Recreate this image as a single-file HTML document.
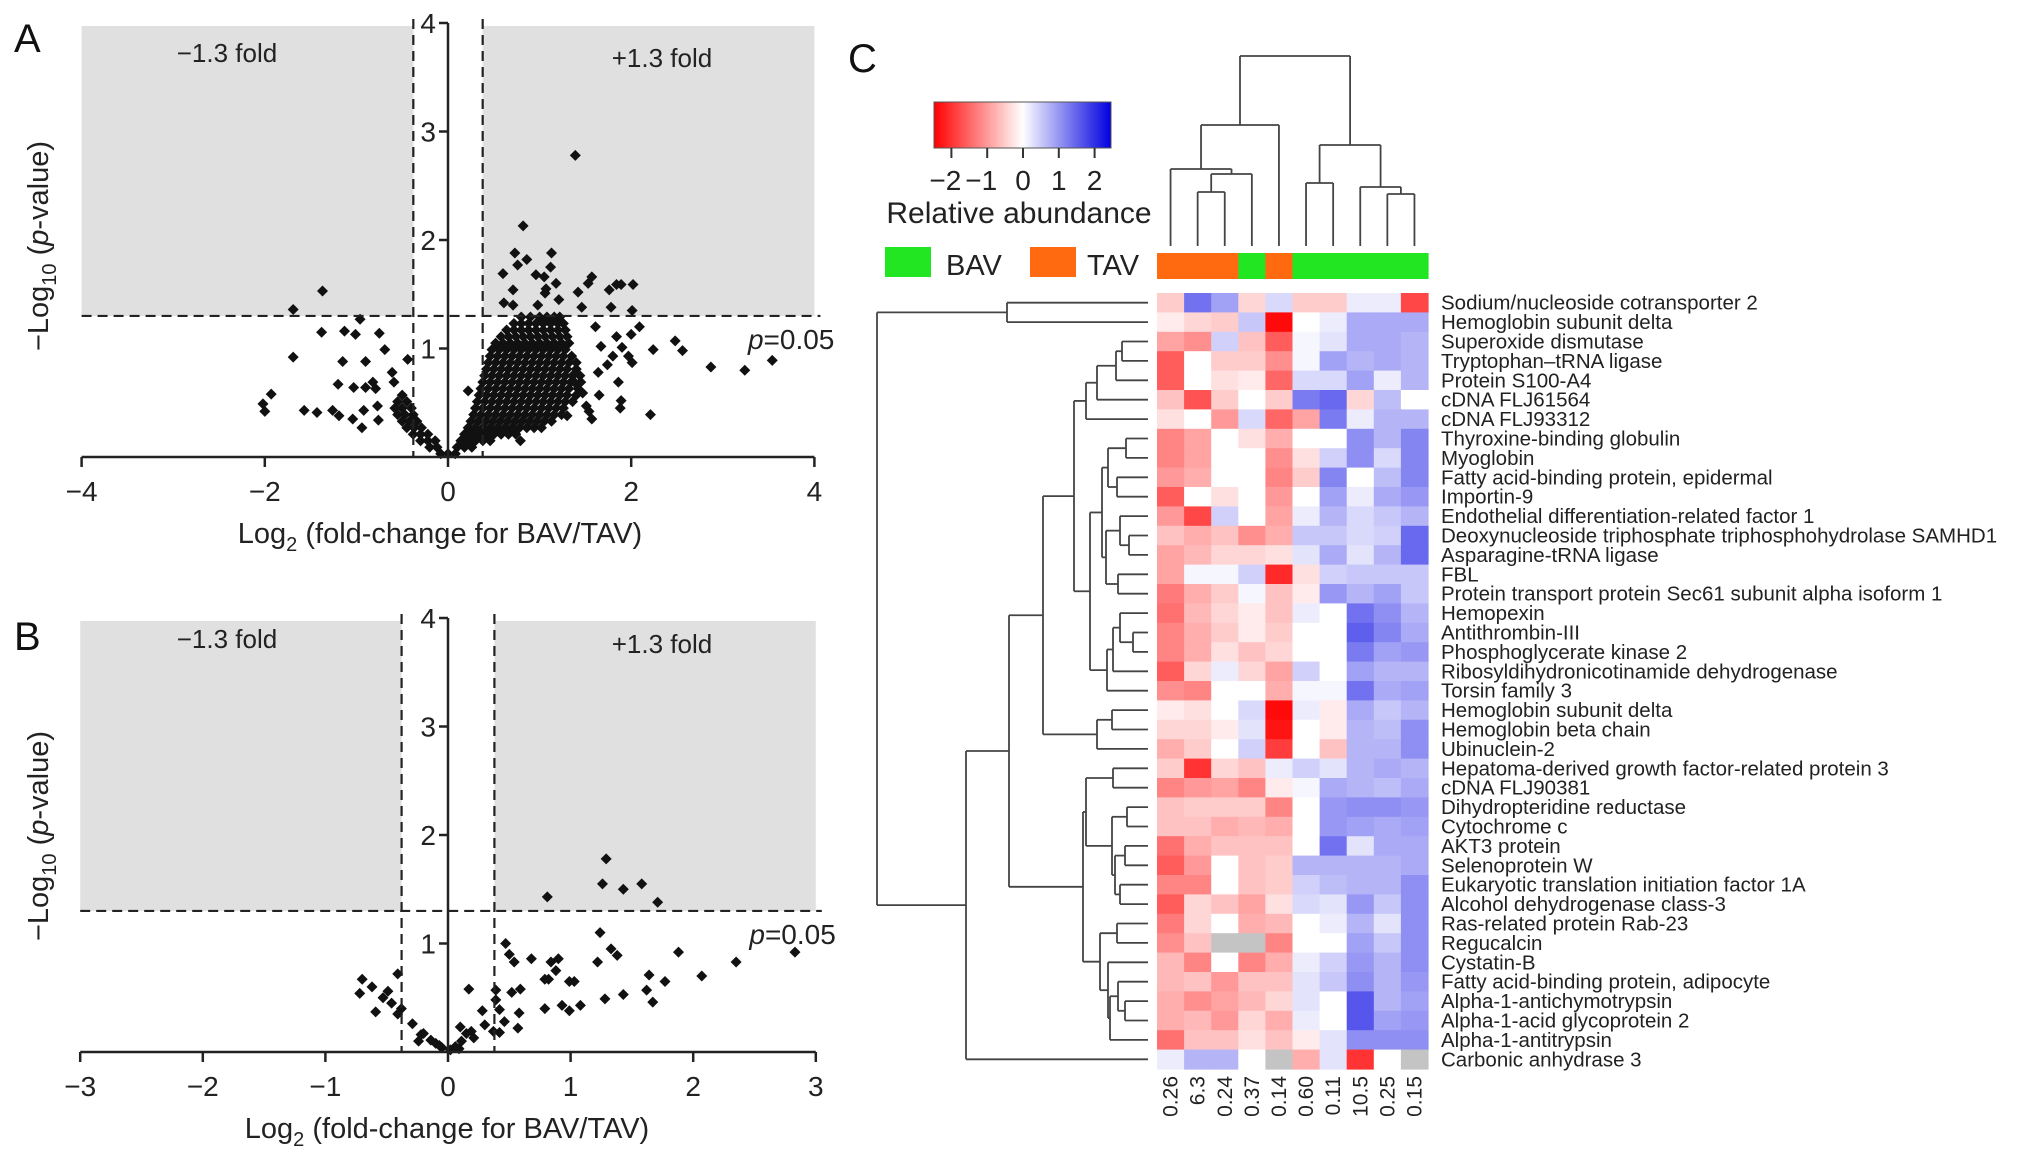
<!DOCTYPE html>
<html><head><meta charset="utf-8"><style>
html,body{margin:0;padding:0;background:#fff;}
svg{display:block;font-family:"Liberation Sans",Arial,sans-serif;}
</style></head><body>
<svg id="fig" width="2032" height="1168" viewBox="0 0 2032 1168" xmlns="http://www.w3.org/2000/svg">
<g id="panelA"></g>
<g id="panelB"></g>
<g id="panelC"></g>
</svg>
<script>
// ---------- Panel A data ----------
const aOutX = [0.82,0.73,0.86,1.13,0.76,1.12,0.60,0.96,1.05,1.57,1.53,1.18,0.71,1.07,1.06,1.42,1.76,1.84,1.89,2.02,0.61,0.71,0.98,1.21,1.46,1.78,2.01,
 -1.37,-1.69,-0.96,-1.38,-1.13,-1.01,-0.75,-1.69,-1.15,-0.90,-0.69,-0.44,-0.61,-0.59,-1.20,-1.03,-0.90,-0.82,-0.79,-1.93,-2.02,-2.00,-1.57,-1.43,-1.26,-1.19,-1.04,-0.94,-0.92,-0.77,-0.76,
 2.24,2.48,2.56,2.87,3.24,3.54,2.21,2.09,2.00,1.97,2.01,1.90,1.84,1.80,1.74,1.67,1.61,1.86,1.89,1.88,1.65,1.57,1.54,1.47,1.38,1.64,1.51,1.30,0.79,0.22,1.39];
const aOutY = [2.13,1.88,1.82,1.88,1.77,1.75,1.69,1.68,1.66,1.66,1.60,1.60,1.54,1.55,1.51,1.52,1.54,1.59,1.59,1.59,1.42,1.40,1.40,1.45,1.38,1.38,1.35,
 1.53,1.36,1.27,1.15,1.16,1.13,1.14,0.92,0.88,0.88,0.99,0.90,0.78,0.69,0.67,0.64,0.64,0.69,0.63,0.58,0.49,0.42,0.43,0.41,0.43,0.38,0.35,0.27,0.43,0.47,0.34,
 0.99,1.07,0.98,0.83,0.80,0.89,0.39,1.20,1.13,0.93,0.87,1.01,1.11,0.93,0.85,1.02,1.20,0.69,0.52,0.45,0.57,0.35,0.42,0.59,0.69,0.78,0.47,0.38,0.15,0.61,2.78];
const aBlobY = [0.03,0.09,0.15,0.21,0.27,0.33,0.39,0.45,0.51,0.57,0.63,0.69,0.75,0.81,0.87,0.93,0.99,1.05,1.11,1.17,1.23,1.29];
const aBlobX = [
[-0.08,0,0.08],
[-0.2,-0.12,0.1,0.18,0.26],
[-0.3,-0.22,-0.14,0.14,0.22,0.3,0.38,0.46],
[-0.38,-0.3,-0.22,0.18,0.26,0.34,0.42,0.5,0.58,0.66,0.74],
[-0.45,-0.37,-0.29,0.22,0.3,0.38,0.46,0.54,0.62,0.7,0.78,0.86,0.94,1.02],
[-0.5,-0.42,-0.34,0.25,0.33,0.41,0.49,0.57,0.65,0.73,0.81,0.89,0.97,1.05,1.13],
[-0.55,-0.47,-0.38,0.28,0.36,0.44,0.52,0.6,0.68,0.76,0.84,0.92,1.0,1.08,1.16,1.24],
[-0.58,-0.5,-0.4,0.3,0.38,0.46,0.54,0.62,0.7,0.78,0.86,0.94,1.02,1.1,1.18,1.26],
[-0.55,-0.45,0.32,0.4,0.48,0.56,0.64,0.72,0.8,0.88,0.96,1.04,1.12,1.2,1.28,1.36],
[-0.5,0.34,0.42,0.5,0.58,0.66,0.74,0.82,0.9,0.98,1.06,1.14,1.22,1.3,1.4],
[0.36,0.44,0.52,0.6,0.68,0.76,0.84,0.92,1.0,1.08,1.16,1.24,1.32,1.42],
[0.38,0.46,0.54,0.62,0.7,0.78,0.86,0.94,1.02,1.1,1.18,1.26,1.34,1.45],
[0.4,0.48,0.56,0.64,0.72,0.8,0.88,0.96,1.04,1.12,1.2,1.28,1.36,1.44],
[0.42,0.5,0.58,0.66,0.74,0.82,0.9,0.98,1.06,1.14,1.22,1.3,1.4],
[0.44,0.52,0.6,0.68,0.76,0.84,0.92,1.0,1.08,1.16,1.24,1.32,1.4],
[0.46,0.54,0.62,0.7,0.78,0.86,0.94,1.02,1.1,1.18,1.26,1.35],
[0.48,0.56,0.64,0.72,0.8,0.88,0.96,1.04,1.12,1.2,1.28],
[0.52,0.6,0.68,0.76,0.84,0.92,1.0,1.08,1.16,1.24,1.32],
[0.58,0.66,0.74,0.82,0.9,0.98,1.06,1.14,1.22,1.3],
[0.64,0.72,0.8,0.88,0.96,1.04,1.12,1.2,1.28],
[0.72,0.8,0.88,0.96,1.04,1.12,1.2,1.26],
[0.8,0.9,1.0,1.08,1.16,1.22]];
const aXTicks = [-4,-2,0,2,4];
const aXTickLabels = ["\u22124","\u22122","0","2","4"];
const aYTicks = [1,2,3,4];

// ---------- Panel B data ----------
const bX = [1.29,1.26,1.43,1.58,1.71,0.81,1.24,1.33,1.38,1.22,1.88,2.83,2.35,2.07,1.64,1.77,1.62,1.67,1.43,1.28,1.08,0.99,0.93,0.79,0.79,0.82,0.99,1.03,0.88,0.84,0.90,0.68,0.47,0.50,0.54,0.59,0.52,0.58,0.57,0.46,0.42,0.39,0.39,0.37,0.42,0.30,0.28,0.17,0.10,0.15,0.19,0.21,0.11,0.06,0.02,-0.05,-0.10,-0.14,-0.20,-0.24,-0.22,-0.29,-0.38,-0.41,-0.41,-0.46,-0.49,-0.53,-0.62,-0.70,-0.72,-0.59,-0.07,0.09];
const bY = [1.78,1.55,1.50,1.55,1.38,1.43,1.10,0.95,0.89,0.83,0.92,0.92,0.83,0.70,0.71,0.65,0.57,0.46,0.53,0.49,0.43,0.38,0.43,0.40,0.67,0.67,0.65,0.65,0.75,0.83,0.86,0.86,1.00,0.90,0.83,0.58,0.55,0.36,0.22,0.28,0.39,0.57,0.48,0.19,0.18,0.25,0.38,0.58,0.23,0.17,0.19,0.13,0.10,0.05,0.02,0.04,0.08,0.11,0.17,0.10,0.16,0.26,0.40,0.35,0.72,0.45,0.56,0.50,0.60,0.67,0.54,0.37,0.06,0.03];
const bXTicks = [-3,-2,-1,0,1,2,3];
const bXTickLabels = ["\u22123","\u22122","\u22121","0","1","2","3"];
const bYTicks = [1,2,3,4];

// ---------- Panel C data ----------
const proteins = ["Sodium/nucleoside cotransporter 2","Hemoglobin subunit delta","Superoxide dismutase","Tryptophan\u2013tRNA ligase","Protein S100-A4","cDNA FLJ61564","cDNA FLJ93312","Thyroxine-binding globulin","Myoglobin","Fatty acid-binding protein, epidermal","Importin-9","Endothelial differentiation-related factor 1","Deoxynucleoside triphosphate triphosphohydrolase SAMHD1","Asparagine-tRNA ligase","FBL","Protein transport protein Sec61 subunit alpha isoform 1","Hemopexin","Antithrombin-III","Phosphoglycerate kinase 2","Ribosyldihydronicotinamide dehydrogenase","Torsin family 3","Hemoglobin subunit delta","Hemoglobin beta chain","Ubinuclein-2","Hepatoma-derived growth factor-related protein 3","cDNA FLJ90381","Dihydropteridine reductase","Cytochrome c","AKT3 protein","Selenoprotein W","Eukaryotic translation initiation factor 1A","Alcohol dehydrogenase class-3","Ras-related protein Rab-23","Regucalcin","Cystatin-B","Fatty acid-binding protein, adipocyte","Alpha-1-antichymotrypsin","Alpha-1-acid glycoprotein 2","Alpha-1-antitrypsin","Carbonic anhydrase 3"];
const sampleLabels = ["0.26","6.3","0.24","0.37","0.14","0.60","0.11","10.5","0.25","0.15"];
const sampleGroups = ["TAV","TAV","TAV","BAV","TAV","BAV","BAV","BAV","BAV","BAV"];
const N = null;
const abundance = [
[-0.5,1.5,1.0,-0.4,0.4,-0.5,-0.5,0.2,0.2,-1.8],
[-0.2,-0.4,-0.5,0.6,-2.4,0,0.2,0.9,0.9,0.9],
[-0.9,-1.1,0.5,-0.6,-1.6,0.1,0.3,0.9,0.9,0.8],
[-1.6,0,-0.5,-0.5,-1.1,0.1,1.0,0.8,0.9,0.8],
[-1.6,0,-0.3,-0.2,-1.5,0.4,0.4,1.0,0.2,0.8],
[-0.6,-1.7,-0.5,0,-0.5,1.4,1.6,-0.4,0.7,0],
[-0.3,0,-1.0,0.4,-1.5,-0.9,1.4,0.2,0.8,0.8],
[-1.2,-0.9,0,-0.3,-0.8,0,0,1.2,0.8,1.3],
[-1.2,-0.9,0,0,-1.1,-0.3,0.5,1.2,0.4,1.3],
[-1.0,-0.8,0,0,-1.2,-0.5,1.3,0,0.7,1.3],
[-1.6,0,-0.3,0,-1.0,0,1.0,0.2,0.9,1.1],
[-1.0,-1.8,0.5,0,-0.9,0.2,0.8,0.4,0.6,0.8],
[-0.6,-0.8,-0.6,-1.1,-0.8,0.6,0.6,0.4,0.5,1.6],
[-0.9,-0.7,-0.4,-0.4,-0.3,0.3,0.9,0.3,0.8,1.6],
[-0.9,0.1,0.1,0.5,-2.1,-0.3,0.5,0.6,0.6,0.6],
[-1.3,-0.8,-0.5,0.1,-0.6,-0.2,1.1,0.8,1.0,0.6],
[-1.4,-0.7,-0.4,-0.2,-0.6,0.2,0,1.5,1.2,0.8],
[-1.2,-0.8,-0.5,-0.2,-0.5,0,0,1.7,1.3,0.9],
[-1.2,-0.8,-0.3,-0.6,-0.4,0,0,1.4,1.0,1.1],
[-1.6,-0.4,0.2,-0.4,-0.9,0.5,0,1.0,0.8,0.8],
[-1.1,-1.2,0,0,-0.8,0.1,0.1,1.5,0.9,1.0],
[-0.2,-0.3,0,0.4,-2.4,0.2,-0.2,0.9,0.6,0.8],
[-0.4,-0.4,-0.2,0.3,-2.3,0,-0.2,0.8,0.7,1.2],
[-0.8,-0.5,0,0.5,-1.9,0,-0.6,0.8,0.8,1.2],
[-0.5,-2.0,-0.4,-0.6,0.2,0.5,0.3,0.8,0.9,0.8],
[-1.2,-1.0,-0.9,-1.2,-0.2,0.1,0.9,0.8,0.7,0.9],
[-0.6,-0.5,-0.5,-0.5,-1.2,0,1.1,1.2,1.2,1.1],
[-0.6,-0.6,-0.8,-0.7,-0.8,0,1.1,1.0,0.9,1.0],
[-1.4,-0.8,-0.6,-0.6,-0.6,0,1.5,0.3,0.9,0.9],
[-1.6,-1.0,0,-0.6,-0.5,0.8,0.8,0.8,0.8,0.9],
[-1.2,-1.2,0,-0.6,-0.5,0.5,0.7,0.8,0.8,1.2],
[-1.6,-0.4,-0.6,-0.9,-0.3,0.4,0.3,1.1,0.6,1.2],
[-1.3,-0.4,0,-0.8,-0.7,0,0.2,0.8,0.3,1.2],
[-1.1,-0.6,N,N,-1.2,0,0,1.0,0.6,1.2],
[-0.7,-1.2,0,-1.2,-0.8,0.2,0.5,1.1,0.8,1.2],
[-0.7,-0.6,-1.0,-0.6,-0.6,0.3,0.6,1.2,0.8,1.1],
[-0.8,-1.1,-0.9,-0.7,-0.4,0.3,0,1.8,0.8,1.0],
[-0.8,-0.7,-1.0,-0.4,-0.8,0.2,0,1.8,1.0,1.1],
[-1.4,-0.6,-0.6,-0.3,-0.6,-0.2,0.3,1.2,1.2,1.2],
[0.2,0.8,0.8,0,N,-0.8,0.3,-2.0,0,N]];
const legendTicks = [-2,-1,0,1,2];
const legendTickLabels = ["\u22122","\u22121","0","1","2"];

// ---------- helpers ----------
const NS = "http://www.w3.org/2000/svg";
function mk(parent, tag, attrs, text) {
  const e = document.createElementNS(NS, tag);
  for (const k in attrs) e.setAttribute(k, attrs[k]);
  if (text !== undefined) e.textContent = text;
  parent.appendChild(e);
  return e;
}
function diamond(g, cx, cy, r) {
  const p = mk(g, "polygon", {points: `${cx},${cy-r} ${cx+r},${cy} ${cx},${cy+r} ${cx-r},${cy}`, fill: "#111"});
  
  
}

function volcano(g, o) {
  const sx = v => o.x0 + v * o.kx;
  const sy = v => o.y0 - v * o.ky;
  const lf = Math.log2(1.3);
  const gl = mk(g, "rect", {x: sx(o.xmin), y: sy(4) + 3, width: sx(-lf) - sx(o.xmin), height: sy(1.3) - sy(4) - 3, fill: "#e0e0e0"});
  
  
  const gr = mk(g, "rect", {x: sx(lf), y: sy(4) + 3, width: sx(o.xmax) - sx(lf), height: sy(1.3) - sy(4) - 3, fill: "#e0e0e0"});
  
  
  const pts = mk(g, "g", {});
  
  
  o.points(pts, sx, sy);
  const dash = {stroke: "#222", "stroke-width": 2.2, "stroke-dasharray": "10,6", fill: "none"};
  const h = mk(g, "line", Object.assign({x1: sx(o.xmin), x2: sx(o.xmax) + 6, y1: sy(1.3), y2: sy(1.3)}, dash));
  
  
  for (const s of [-1, 1]) {
    const v = mk(g, "line", Object.assign({x1: sx(s * lf), x2: sx(s * lf), y1: sy(4) - 4, y2: sy(0)}, dash));
    
    
  }
  const ax = mk(g, "line", {x1: sx(o.xmin), x2: sx(o.xmax), y1: sy(0), y2: sy(0), stroke: "#222", "stroke-width": 2.5});
  
  
  o.xTicks.forEach((t, i) => {
    mk(g, "line", {x1: sx(t), x2: sx(t), y1: sy(0), y2: sy(0) + 10, stroke: "#222", "stroke-width": 2.5});
    const tl = mk(g, "text", {x: sx(t), y: sy(0) + 44, "text-anchor": "middle", "font-size": 28, fill: "#222"}, o.xTickLabels[i]);
    
    
  });
  const ay = mk(g, "line", {x1: sx(0), x2: sx(0), y1: sy(4), y2: sy(0), stroke: "#222", "stroke-width": 2.5});
  
  
  o.yTicks.forEach(t => {
    mk(g, "line", {x1: sx(0) - 9, x2: sx(0), y1: sy(t), y2: sy(t), stroke: "#222", "stroke-width": 2.5});
    const tl = mk(g, "text", {x: sx(0) - 12, y: sy(t) + 10, "text-anchor": "end", "font-size": 28, fill: "#222"}, String(t));
    
    
  });
  const xt = mk(g, "text", {x: o.titleX, y: sy(0) + 86, "text-anchor": "middle", "font-size": 29, fill: "#222"});
  xt.innerHTML = 'Log<tspan font-size="20" dy="8">2</tspan><tspan dy="-8"> (fold-change for BAV/TAV)</tspan>';
  
  
  const yt = mk(g, "text", {transform: `translate(48,${o.yTitleY}) rotate(-90)`, "text-anchor": "middle", "font-size": 29, fill: "#222"});
  yt.innerHTML = '\u2212Log<tspan font-size="20" dy="8">10</tspan><tspan dy="-8"> (</tspan><tspan font-style="italic">p</tspan>-value)';
  
  
  const pl = mk(g, "text", {x: sx(o.xmax) + 20, y: sy(1.3) + 33, "text-anchor": "end", "font-size": 28, fill: "#222"});
  pl.innerHTML = '<tspan font-style="italic">p</tspan>=0.05';
  
  
  const f1 = mk(g, "text", {x: o.foldLX, y: o.foldY, "text-anchor": "middle", "font-size": 26, fill: "#222"}, "\u22121.3 fold");
  
  
  const f2 = mk(g, "text", {x: o.foldRX, y: o.foldY + 5, "text-anchor": "middle", "font-size": 26, fill: "#222"}, "+1.3 fold");
  
  
  const pn = mk(g, "text", {x: 14, y: o.letterY, "font-size": 40, fill: "#111"}, o.letter);
  
  
}

volcano(document.getElementById("panelA"), {
  x0: 448, kx: 91.6, y0: 457, ky: 108.5, xmin: -4, xmax: 4,
  xTicks: aXTicks, xTickLabels: aXTickLabels, yTicks: aYTicks,
  titleX: 440, yTitleY: 246, foldLX: 227, foldRX: 662, foldY: 62, letter: "A", letterY: 52,
  points: (g, sx, sy) => {
    aBlobY.forEach((y, i) => aBlobX[i].forEach(x => diamond(g, sx(x), sy(y), 5.5)));
    aOutX.forEach((x, i) => diamond(g, sx(x), sy(aOutY[i]), 5.5));
  }
});
volcano(document.getElementById("panelB"), {
  x0: 448, kx: 122.6, y0: 1052, ky: 108.5, xmin: -3, xmax: 3,
  xTicks: bXTicks, xTickLabels: bXTickLabels, yTicks: bYTicks,
  titleX: 447, yTitleY: 836, foldLX: 227, foldRX: 662, foldY: 648, letter: "B", letterY: 650,
  points: (g, sx, sy) => { bX.forEach((x, i) => diamond(g, sx(x), sy(bY[i]), 5.5)); }
});

// ---------- Panel C ----------
(function () {
  const g = document.getElementById("panelC");
  const X0 = 1157, CW = 27.1, Y0 = 293, RH = 19.4;
  function color(v) {
    if (v === null) return "#c4c4c4";
    const t = Math.min(Math.abs(v) / 2.5, 1);
    if (v < 0) return `rgb(255,${Math.round(255 * (1 - t))},${Math.round(255 * (1 - t))})`;
    return `rgb(${Math.round(255 - 235 * t)},${Math.round(255 - 235 * t)},${Math.round(255 - 25 * t)})`;
  }
  const cells = mk(g, "g", {});
  
  
  abundance.forEach((row, r) => row.forEach((v, c) => {
    const e = mk(cells, "rect", {x: X0 + c * CW, y: Y0 + r * RH, width: CW + 0.6, height: RH + 0.6, fill: color(v)});
    
    
  }));
  proteins.forEach((p, r) => {
    const t = mk(g, "text", {x: 1441, y: Y0 + r * RH + RH / 2 + 7, "font-size": 20.5, fill: "#222"}, p);
    
    
  });
  sampleLabels.forEach((s, c) => {
    const cx = X0 + c * CW + CW / 2 + 7;
    const t = mk(g, "text", {transform: `translate(${cx},1076) rotate(-90)`, "text-anchor": "end", "font-size": 21, fill: "#222"}, s);
    
    
  });
  sampleGroups.forEach((s, c) => {
    const e = mk(g, "rect", {x: X0 + c * CW, y: 253, width: CW + 0.6, height: 26, fill: s === "BAV" ? "#22e622" : "#ff6a10"});
    
    
  });
  const ln = {stroke: "#444", "stroke-width": 1.8, fill: "none"};
  function n(h, a, b) { return {h: h, c: [a, b]}; }
  const rowTree = n(877, n(1007, 0, 1), n(966, n(1009,
    n(1043,
      n(1074,
        n(1086, n(1097, n(1116, n(1122, 2, 3), 4), 5), 6),
        n(1090,
          n(1102, n(1108, n(1126, 7, 8), n(1117, 9, 10)), n(1106, n(1120, 11, n(1129, 12, 13)), n(1118, 14, 15))),
          n(1107, n(1113, n(1120, 16, n(1133, 17, 18)), 19), 20))),
      n(1097, n(1112, 21, 22), 23)),
    n(1083,
      n(1086, n(1113, 24, 25), n(1112, n(1127, 26, 27), n(1115, n(1125, 28, 29), n(1120, 30, 31)))),
      n(1100, n(1117, 32, 33), n(1108, 34, n(1110, n(1118, 35, n(1125, 36, 37)), 38))))), 39));
  const dr = mk(g, "g", {});
  
  
  function drawRow(t) {
    if (typeof t === "number") return {x: 1148, y: Y0 + t * RH + RH / 2};
    const a = drawRow(t.c[0]), b = drawRow(t.c[1]);
    mk(dr, "line", Object.assign({x1: t.h, x2: a.x, y1: a.y, y2: a.y}, ln));
    mk(dr, "line", Object.assign({x1: t.h, x2: b.x, y1: b.y, y2: b.y}, ln));
    mk(dr, "line", Object.assign({x1: t.h, x2: t.h, y1: a.y, y2: b.y}, ln));
    return {x: t.h, y: (a.y + b.y) / 2};
  }
  drawRow(rowTree);
  const colTree = n(56, n(125, n(169, 0, n(174, n(192, 1, 2), 3)), 4), n(145, n(183, 5, 6), n(187, 7, n(194, 8, 9))));
  const dc = mk(g, "g", {});
  
  
  function drawCol(t) {
    if (typeof t === "number") return {x: X0 + t * CW + CW / 2, y: 246};
    const a = drawCol(t.c[0]), b = drawCol(t.c[1]);
    mk(dc, "line", Object.assign({x1: a.x, x2: a.x, y1: t.h, y2: a.y}, ln));
    mk(dc, "line", Object.assign({x1: b.x, x2: b.x, y1: t.h, y2: b.y}, ln));
    mk(dc, "line", Object.assign({x1: a.x, x2: b.x, y1: t.h, y2: t.h}, ln));
    return {x: (a.x + b.x) / 2, y: t.h};
  }
  drawCol(colTree);
  const defs = mk(g, "defs", {});
  const lg = mk(defs, "linearGradient", {id: "cbar", x1: 0, x2: 1, y1: 0, y2: 0});
  mk(lg, "stop", {offset: "0", "stop-color": "#ff0000"});
  mk(lg, "stop", {offset: "0.5", "stop-color": "#ffffff"});
  mk(lg, "stop", {offset: "1", "stop-color": "#0000e0"});
  const cb = mk(g, "rect", {x: 934, y: 102, width: 177, height: 46, fill: "url(#cbar)", stroke: "#555", "stroke-width": 1});
  
  
  const lx = v => 1023 + v * 35.8;
  legendTicks.forEach((t, i) => {
    mk(g, "line", {x1: lx(t), x2: lx(t), y1: 148, y2: 158, stroke: "#333", "stroke-width": 2});
    const tl = mk(g, "text", {x: lx(t) - (t < 0 ? 6 : 0), y: 190, "text-anchor": "middle", "font-size": 28, fill: "#222"}, legendTickLabels[i]);
    
    
  });
  const rt = mk(g, "text", {x: 1019, y: 223, "text-anchor": "middle", "font-size": 30, fill: "#222"}, "Relative abundance");
  
  
  const b1 = mk(g, "rect", {x: 885, y: 247, width: 46, height: 30, fill: "#22e622"});
  
  
  const t1 = mk(g, "text", {x: 946, y: 275, "font-size": 29, fill: "#222"}, "BAV");
  
  
  const b2 = mk(g, "rect", {x: 1030, y: 247, width: 46, height: 30, fill: "#ff6a10"});
  
  
  const t2 = mk(g, "text", {x: 1087, y: 275, "font-size": 29, fill: "#222"}, "TAV");
  
  
  const pc = mk(g, "text", {x: 848, y: 72, "font-size": 40, fill: "#111"}, "C");
  
  
})();
</script>
</body></html>
